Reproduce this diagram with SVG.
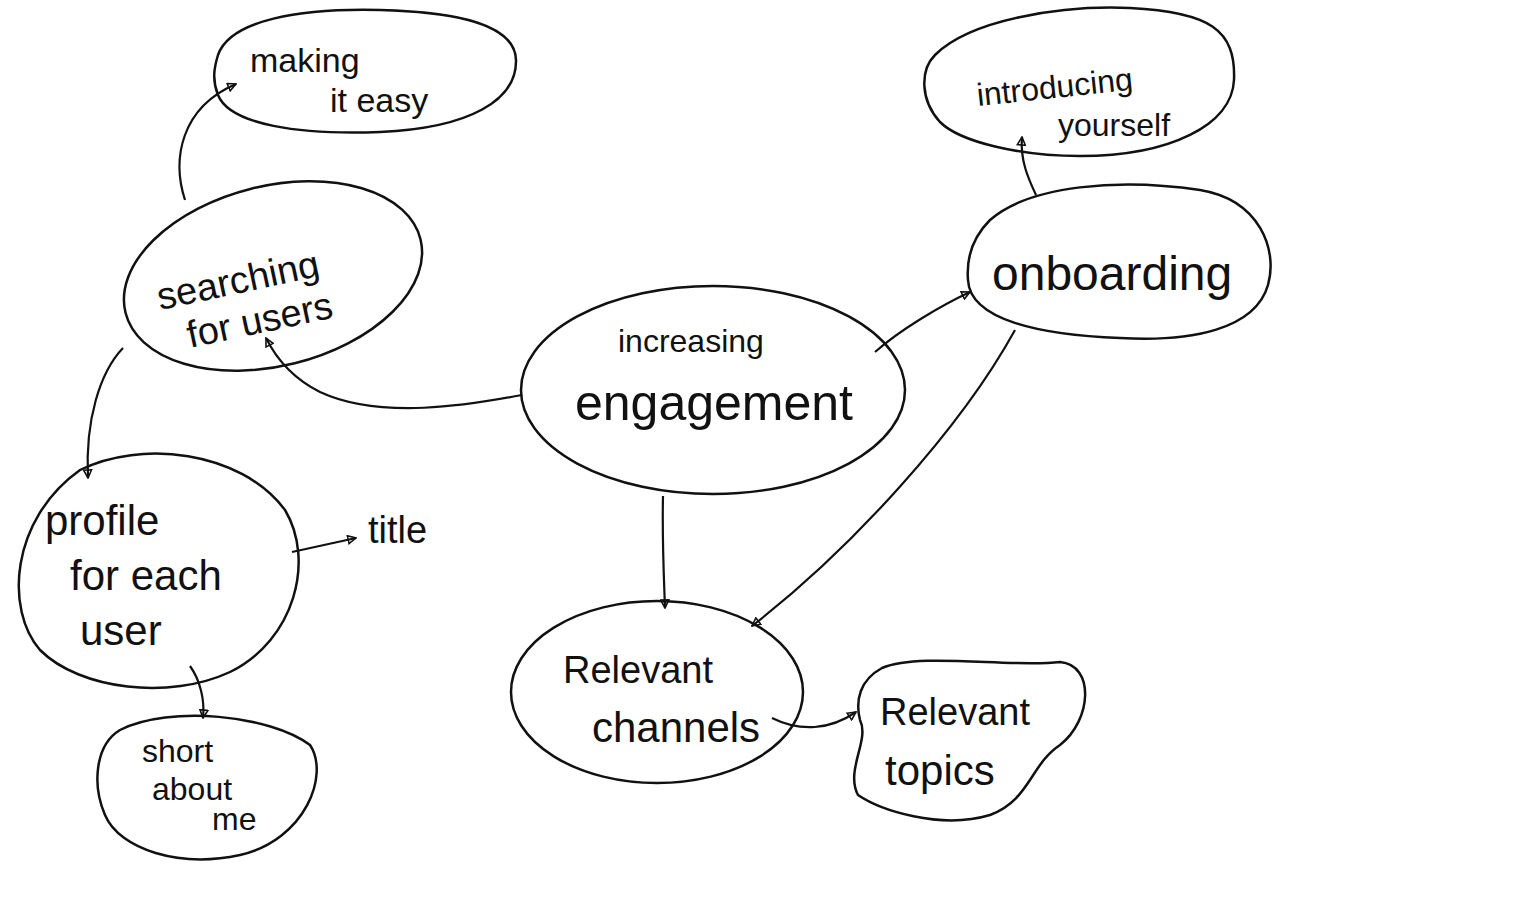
<svg xmlns="http://www.w3.org/2000/svg" width="1536" height="910" viewBox="0 0 1536 910">
<style>
.n{fill:none;stroke:#111;stroke-width:2.5}
.c{fill:none;stroke:#111;stroke-width:2.2;marker-end:url(#ah)}
text{font-family:"Liberation Sans","DejaVu Sans",sans-serif;fill:#111;font-weight:300}
</style>
<defs>
<marker id="ah" viewBox="0 0 10 10" refX="9" refY="5" markerWidth="10" markerHeight="10" markerUnits="userSpaceOnUse" orient="auto">
<path d="M1,1 L9,5 L1,9 Z" fill="none" stroke="#111" stroke-width="1.6"/>
</marker>
</defs>
<rect width="1536" height="910" fill="#fff"/>
<g id="connectors">
<path class="c" d="M522,395 C470,405 380,420 320,392 C292,378 276,358 266,338"/>
<path class="c" d="M185,200 C172,160 180,108 236,84"/>
<path class="c" d="M123,348 C100,372 85,420 88,478"/>
<path class="c" d="M292,552 L356,538"/>
<path class="c" d="M190,666 C200,680 205,700 203,718"/>
<path class="c" d="M875,352 C900,330 940,306 970,292"/>
<path class="c" d="M1036,195 C1028,178 1020,160 1022,137"/>
<path class="c" d="M663,496 C662,540 664,580 665,608"/>
<path class="c" d="M1015,330 C960,430 850,550 752,626"/>
<path class="c" d="M772,718 C800,732 830,730 856,712"/>
</g>
<g id="making-it-easy">
<path class="n" d="M218,55 C230,20 300,8 380,10 C460,12 515,25 516,60 C517,100 470,128 380,132 C300,135 230,125 218,95 C212,80 214,68 218,55 Z"/>
<text x="250" y="72" font-size="34">making</text>
<text x="330" y="112" font-size="34">it easy</text>
</g>
<g id="searching-for-users">
<ellipse class="n" cx="273" cy="276" rx="152" ry="90" transform="rotate(-14 273 276)"/>
<text x="160" y="310" font-size="38" transform="rotate(-12 160 310)">searching</text>
<text x="190" y="348" font-size="38" transform="rotate(-12 190 348)">for users</text>
</g>
<g id="profile-for-each-user">
<path class="n" d="M80,470 C140,440 240,450 285,510 C315,560 295,640 230,672 C170,700 80,690 40,650 C5,610 10,520 80,470 Z"/>
<text x="45" y="535" font-size="42">profile</text>
<text x="70" y="590" font-size="42">for each</text>
<text x="80" y="645" font-size="42">user</text>
</g>
<g id="title">
<text x="368" y="543" font-size="38">title</text>
</g>
<g id="short-about-me">
<path class="n" d="M120,730 C170,705 270,715 310,745 C330,775 305,840 240,855 C180,868 120,850 105,815 C92,785 95,745 120,730 Z"/>
<text x="142" y="762" font-size="32">short</text>
<text x="152" y="800" font-size="32">about</text>
<text x="212" y="830" font-size="32">me</text>
</g>
<g id="increasing-engagement">
<ellipse class="n" cx="713" cy="390" rx="192" ry="104"/>
<text x="618" y="352" font-size="32">increasing</text>
<text x="575" y="420" font-size="50">engagement</text>
</g>
<g id="onboarding">
<path class="n" d="M990,220 C1030,185 1120,178 1200,190 C1260,200 1278,250 1268,285 C1255,330 1190,342 1120,338 C1040,335 970,320 968,280 C966,255 975,235 990,220 Z"/>
<text x="992" y="290" font-size="48">onboarding</text>
</g>
<g id="introducing-yourself">
<path class="n" d="M935,55 C970,20 1060,5 1130,8 C1210,12 1236,30 1234,80 C1232,125 1170,156 1080,156 C1020,156 960,142 940,122 C920,100 920,70 935,55 Z"/>
<text x="978" y="106" font-size="32" transform="rotate(-6 978 106)">introducing</text>
<text x="1058" y="136" font-size="32">yourself</text>
</g>
<g id="relevant-channels">
<ellipse class="n" cx="657" cy="692" rx="146" ry="91"/>
<text x="563" y="683" font-size="38">Relevant</text>
<text x="592" y="742" font-size="42">channels</text>
</g>
<g id="relevant-topics">
<path class="n" d="M882,668 C920,652 1010,668 1060,662 C1095,665 1092,720 1060,745 C1030,765 1030,800 990,815 C940,830 880,810 858,795 C845,770 870,740 860,720 C855,700 860,680 882,668 Z"/>
<text x="880" y="725" font-size="38">Relevant</text>
<text x="885" y="785" font-size="42">topics</text>
</g>
</svg>
